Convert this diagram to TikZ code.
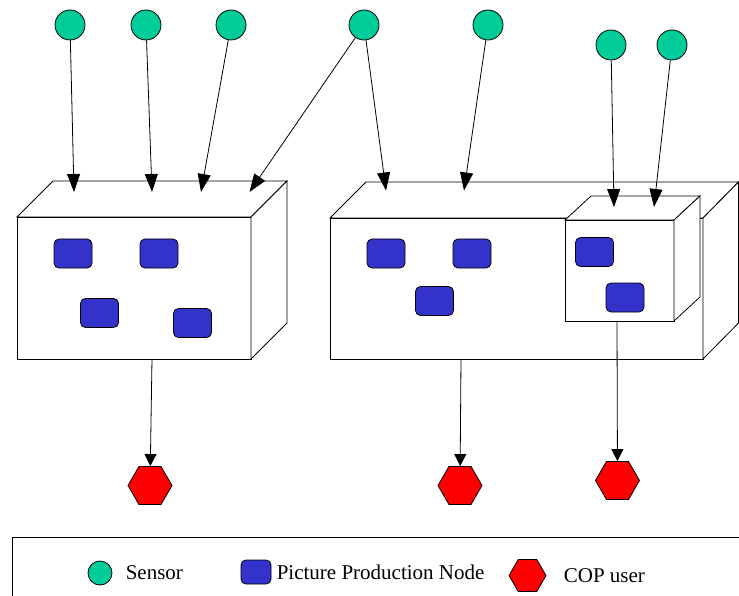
\documentclass[tikz,border=0pt]{standalone}
\usepackage{fontspec}
\setmainfont{Liberation Serif}
\usetikzlibrary{positioning,shapes.geometric,arrows.meta}
\definecolor{sensorclr}{RGB}{0,204,153}
\definecolor{ppnclr}{RGB}{51,51,204}
\definecolor{copclr}{RGB}{255,0,0}
\tikzset{ %
  ,sensor/.style={draw, circle, inner sep=0, minimum size=30pt, fill=sensorclr}
  ,ppn/.style={draw, rounded corners=5pt, inner sep=0, minimum width=38pt, minimum height=29pt, fill=ppnclr}
  ,copuser/.style={draw, regular polygon, regular polygon sides=6, inner sep=0, minimum size=44pt, fill=copclr}
  ,cube/.style={draw, fill=white}
  ,feed/.style={-{Triangle[length=18pt,width=13pt]}}
  ,deliver/.style={-{Triangle[length=12pt,width=12pt]}}
  ,legend/.style={inner sep=0, font=\fontsize{21}{25}\selectfont}
}
\begin{document}
\begin{tikzpicture}[x=1pt,y=-1pt,line width=0.8pt]
    \useasboundingbox (0,0) rectangle (739,596);
    % first site
    \draw[cube] (17,217) rectangle (251,359);
    \draw[cube] (17,217) -- (53,181) -- (287,181) -- (251,217) -- cycle;
    \draw[cube] (251,217) -- (287,181) -- (287,323) -- (251,359) -- cycle;
    % second site with the inner one
    \draw[cube] (330,218) rectangle (703,359);
    \draw[cube] (330,218) -- (366,182) -- (738.5,182) -- (703,218) -- cycle;
    \draw[cube] (703,218) -- (738.5,182) -- (738.5,323) -- (703,359) -- cycle;
    \draw[cube] (565,220) rectangle (674,321);
    \draw[cube] (565,220) -- (591,196) -- (700,196) -- (674,220) -- cycle;
    \draw[cube] (674,220) -- (700,196) -- (700,297) -- (674,321) -- cycle;

    \draw
    node[ppn] (p1) at (73,253.5) {}
    node[ppn] (p2) at (159,253.5) {}
    node[ppn] (p3) at (99.5,313) {}
    node[ppn] (p4) at (192.5,323) {}
    node[ppn] (p5) at (386,253.5) {}
    node[ppn] (p6) at (472,253.5) {}
    node[ppn] (p7) at (434.5,301) {}
    node[ppn] (p8) at (594.5,252) {}
    node[ppn] (p9) at (625,297.5) {};

    \draw
    node[sensor] (s1) at (70,25) {}
    node[sensor] (s2) at (146,25) {}
    node[sensor] (s3) at (231,25) {}
    node[sensor] (s4) at (364,25) {}
    node[sensor] (s5) at (488,25) {}
    node[sensor] (s6) at (611,45) {}
    node[sensor] (s7) at (672,45) {};

    \draw
    node[copuser] (h1) at (150,485.5) {}
    node[copuser] (h2) at (460,485.5) {}
    node[copuser] (h3) at (617.5,480.5) {};

    \coordinate (t1) at (74,192);
    \coordinate (t2) at (152,192);
    \coordinate (t3) at (201,192);
    \coordinate (t4) at (249.5,192);
    \coordinate (t5) at (386,190.5);
    \coordinate (t6) at (464,190.5);
    \coordinate (t7) at (614,207);
    \coordinate (t8) at (654,207);
    \coordinate (b1) at (152,359);
    \coordinate (b2) at (461,359);
    \coordinate (b3) at (617,321);

    \path [feed] (s1) edge (t1) (s2) edge (t2) (s3) edge (t3) (s4) edge (t4)
      (s4) edge (t5) (s5) edge (t6) (s6) edge (t7) (s7) edge (t8);
    \path [deliver] (b1) edge (h1) (b2) edge (h2) (b3) edge (h3);

    % legend
    \draw (12,596) |- (739,537);
    \draw
    node[sensor, minimum size=24pt] (lsensor) at (100,573) {}
    node[legend, right=13pt of lsensor] {Sensor}
    node[ppn, minimum width=30pt, minimum height=24pt] (lppn) at (256,572) {}
    node[legend, right=5pt of lppn] {Picture Production Node}
    node[copuser, minimum size=37pt] (lcop) at (527.5,575.5) {}
    node[legend, right=17pt of lcop] {COP user};
  \end{tikzpicture}
\end{document}
